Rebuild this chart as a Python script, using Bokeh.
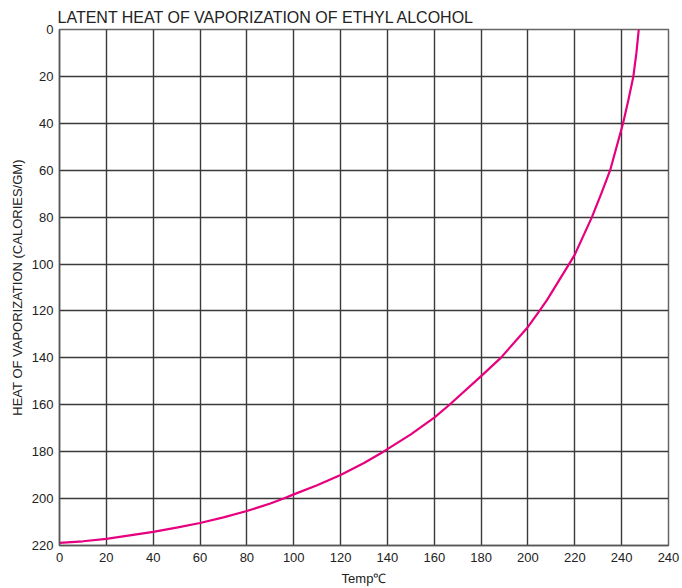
from bokeh.plotting import figure
from bokeh.models import Range1d, FixedTicker
from bokeh.embed import file_html
from bokeh.resources import INLINE

# Data
temp_c = [0, 10, 20, 40, 50, 60, 70, 80, 90, 95.7, 100, 110, 120, 130, 138.3,
          150, 160, 166.5, 180, 188.4, 200, 204.9, 208.1, 218.2, 220,
          227.3, 231.3, 235.1, 240.6, 242.9, 245.0, 246.3, 247.3]
heat_cal = [218.9, 218.2, 217.2, 214.2, 212.4, 210.4, 208.0, 205.3, 202.1, 200,
            198.2, 194.3, 189.9, 184.8, 180, 172.6, 165.5, 160, 147.8,
            140, 126.8, 120, 115.4, 99, 96, 80, 70, 60, 40, 30, 20, 10, 0]
x_ticks = [0, 20, 40, 60, 80, 100, 120, 140, 160, 180, 200, 220, 240, 260]
x_tick_labels = ["0", "20", "40", "60", "80", "100", "120", "140", "160",
                 "180", "200", "220", "240", "240"]
y_ticks = [0, 20, 40, 60, 80, 100, 120, 140, 160, 180, 200, 220]

FONT = "'Liberation Sans Narrow', 'Liberation Sans', sans-serif"

p = figure(width=682, height=588, output_backend="svg", toolbar_location=None,
           x_range=Range1d(0, 260), y_range=Range1d(220, 0),
           min_border_left=59, min_border_right=14, min_border_top=29,
           min_border_bottom=43,
           title="LATENT HEAT OF VAPORIZATION OF ETHYL ALCOHOL")

p.title.text_font = FONT
p.title.text_font_size = "16px"
p.title.text_font_style = "normal"
p.title.text_color = "#222222"
p.title.align = "left"
p.title.offset = -2
p.title.standoff = 8

p.line(temp_c, heat_cal, line_color="#e6007e", line_width=2.2,
       line_join="round")

p.xaxis.ticker = FixedTicker(ticks=x_ticks)
p.xaxis.major_label_overrides = {t: l for t, l in zip(x_ticks, x_tick_labels)}
p.yaxis.ticker = FixedTicker(ticks=y_ticks)

for ax in (p.xaxis, p.yaxis):
    ax.major_tick_line_color = None
    ax.minor_tick_line_color = None
    ax.major_tick_out = 0
    ax.major_tick_in = 0
    ax.axis_line_color = "#555555"
    ax.axis_line_width = 1.5
    ax.major_label_text_font = FONT
    ax.major_label_text_font_size = "13px"
    ax.major_label_text_color = "#222222"
    ax.axis_label_text_font = FONT
    ax.axis_label_text_font_size = "13px"
    ax.axis_label_text_font_style = "normal"
    ax.axis_label_text_color = "#222222"

p.xaxis.axis_label = "Temp℃"
p.xaxis.major_label_standoff = 7
p.xaxis.axis_label_standoff = 6
p.yaxis.axis_label = "HEAT OF VAPORIZATION (CALORIES/GM)"
p.yaxis.major_label_standoff = 6
p.yaxis.axis_label_standoff = 4

p.xgrid.ticker = FixedTicker(ticks=x_ticks)
p.ygrid.ticker = FixedTicker(ticks=y_ticks)
p.grid.grid_line_color = "#3a3a3a"
p.grid.grid_line_width = 1.4
p.grid.grid_line_alpha = 1.0

p.outline_line_color = "#666666"
p.outline_line_width = 1.5
p.outline_line_alpha = 1.0
p.background_fill_color = "white"
p.border_fill_color = "white"

open("out.html", "w").write(file_html(p, INLINE))
